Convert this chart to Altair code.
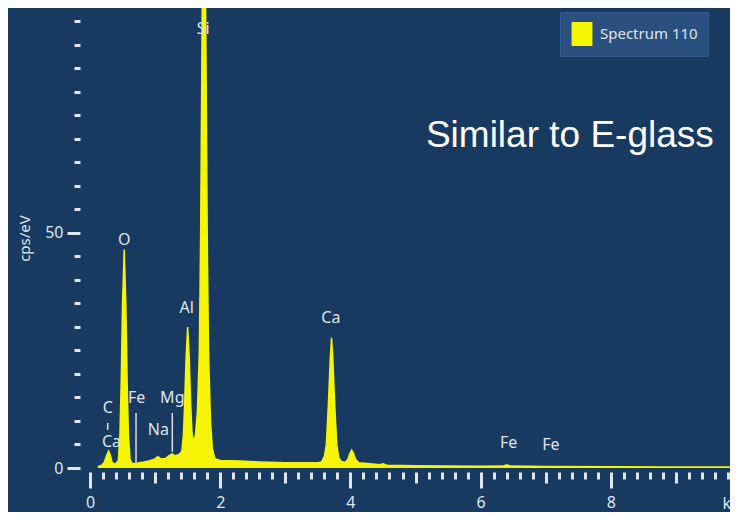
import altair as alt
import pandas as pd

# ---- spectrum ----
energy_kev = [0.12, 0.18, 0.22, 0.26, 0.285, 0.31, 0.34, 0.38, 0.435, 0.46, 0.48, 0.50, 0.525,
              0.55, 0.57, 0.59, 0.615, 0.65, 0.72, 0.80, 0.90, 0.98, 1.04, 1.10, 1.16, 1.21,
              1.26, 1.31, 1.36, 1.41, 1.435, 1.455, 1.475, 1.50, 1.525, 1.545, 1.565, 1.58,
              1.62, 1.65, 1.68, 1.70, 1.72, 1.735, 1.75, 1.765, 1.78, 1.80, 1.82, 1.85, 1.88,
              1.92, 2.0, 2.3, 2.6, 3.0, 3.3, 3.5, 3.56, 3.60, 3.63, 3.66, 3.69, 3.71, 3.73,
              3.76, 3.79, 3.82, 3.86, 3.92, 3.96, 3.99, 4.02, 4.05, 4.08, 4.13, 4.3, 4.45,
              4.50, 4.56, 5.0, 5.5, 6.0, 6.35, 6.40, 6.45, 7.0, 8.0, 9.0, 9.9]
cps_per_ev = [0.3, 0.6, 1.2, 2.8, 3.6, 2.8, 1.2, 0.8, 1.5, 7, 18.5, 35, 46.5,
              35, 18.5, 7, 1.8, 0.9, 1.0, 1.2, 1.5, 1.8, 2.4, 1.9, 2.0, 2.6,
              3.0, 2.6, 2.8, 3.5, 7, 14, 23, 30, 23, 14, 8, 5.5,
              7, 12, 25, 50, 90, 120, 135, 120, 90, 50, 25, 10, 4,
              2, 1.6, 1.5, 1.3, 1.1, 1.1, 1.1, 1.3, 2.5, 5, 13, 23, 27.7, 23,
              13, 5, 2.2, 1.4, 1.2, 1.8, 3.0, 3.8, 3.0, 1.8, 1.1, 0.9, 0.7,
              0.9, 0.6, 0.5, 0.4, 0.35, 0.4, 0.7, 0.4, 0.3, 0.25, 0.2, 0.2]
series_name = "Spectrum 110"

# ---- element labels ----
label_text = ["Si", "O", "Al", "Ca", "C", "Ca", "Fe", "Na", "Mg", "Fe", "Fe"]
label_kev = [1.74, 0.527, 1.485, 3.70, 0.272, 0.33, 0.717, 1.05, 1.264, 6.43, 7.08]
label_cps = [93.5, 48.5, 34.0, 32.0, 12.8, 5.6, 14.9, 8.1, 14.9, 5.3, 4.9]

# ---- element marker lines ----
marker_kev = [0.272, 0.707, 1.264]
marker_top = [9.6, 11.7, 11.7]
marker_bottom = [8.1, 1.1, 3.4]

# ---- axis ticks ----
x_ticks = [round(i * 0.2, 1) for i in range(0, 50)]
y_ticks = list(range(0, 100, 5))

note_text = ["Similar to E-glass"]
note_kev = [7.37]
note_cps = [68.3]

X_DOMAIN = [0, 9.83]
Y_DOMAIN = [0, 97.87]

spec = pd.DataFrame({"keV": energy_kev, "cps": cps_per_ev, "series": series_name})
labels = pd.DataFrame({"t": label_text, "keV": label_kev, "cps": label_cps})
markers = pd.DataFrame({"keV": marker_kev, "top": marker_top, "bottom": marker_bottom})
note = pd.DataFrame({"t": note_text, "keV": note_kev, "cps": note_cps})

FONT = "Noto Sans"
TXT = "#dfe6ee"

x_major = "abs(datum.value/2 - round(datum.value/2)) < 0.01"
x_mid = "abs(datum.value - round(datum.value)) < 0.01"

x_axis = alt.Axis(
    values=x_ticks, tickCount=200, domain=False, grid=False, offset=4,
    tickColor=TXT, tickWidth=3,
    tickSize={"condition": [{"test": x_major, "value": 16}, {"test": x_mid, "value": 11}], "value": 7},
    labelExpr=f"{x_major} ? '' + round(datum.value) : ''",
    labelColor=TXT, labelFont=FONT, labelFontSize=16, labelPadding=6,
    labelOverlap=False, labelFlush=False,
    title="keV", titleColor=TXT, titleFont=FONT, titleFontSize=16, titleFontWeight="normal",
    titleAlign="left", titleAnchor="start", titleX=632, titleY=31, titleBaseline="middle",
)
y_axis = alt.Axis(
    values=y_ticks, tickCount=200, domain=False, grid=False, offset=10,
    tickColor=TXT, tickWidth=3,
    tickSize={"condition": {"test": "datum.value % 50 == 0", "value": 13}, "value": 6},
    labelExpr="datum.value % 50 == 0 ? '' + datum.value : ''",
    labelColor=TXT, labelFont=FONT, labelFontSize=16, labelPadding=4,
    labelOverlap=False, labelFlush=False,
    title="cps/eV", titleColor=TXT, titleFont=FONT, titleFontSize=15, titleFontWeight="normal",
    titlePadding=12,
)

xs = alt.Scale(domain=X_DOMAIN, nice=False, zero=False)
ys = alt.Scale(domain=Y_DOMAIN, nice=False)

area = alt.Chart(spec).mark_area(clip=True, line={"color": "#f5f505", "strokeWidth": 1.5}, opacity=1).encode(
    x=alt.X("keV:Q", scale=xs, axis=x_axis),
    y=alt.Y("cps:Q", scale=ys, axis=y_axis),
    color=alt.Color("series:N", scale=alt.Scale(domain=[series_name], range=["#f5f505"]),
                    legend=alt.Legend(
                        orient="none", legendX=470, legendY=4, title=None,
                        fillColor="#2a507f", strokeColor="#34598a", padding=10,
                        symbolType="M-0.87,-1H0.87V1H-0.87Z", symbolSize=576,
                        symbolStrokeWidth=0, symbolOpacity=1, symbolOffset=0,
                        labelColor=TXT, labelFont=FONT, labelFontSize=15, labelOffset=6,
                        labelLimit=400,
                    )),
)

rules = alt.Chart(markers).mark_rule(color="#d8dfe8", strokeWidth=1.5).encode(
    x=alt.X("keV:Q", scale=xs), y=alt.Y("top:Q", scale=ys), y2="bottom:Q"
)

texts = alt.Chart(labels).mark_text(font=FONT, fontSize=16, color=TXT, align="center", baseline="middle").encode(
    x=alt.X("keV:Q", scale=xs), y=alt.Y("cps:Q", scale=ys), text="t:N"
)

note_mark = alt.Chart(note).mark_text(font="Liberation Sans", fontSize=37, color="#ffffff",
                                      align="center", baseline="alphabetic").encode(
    x=alt.X("keV:Q", scale=xs), y=alt.Y("cps:Q", scale=ys), text="t:N"
)

chart = alt.layer(area, rules, texts, note_mark).properties(
    width=640, height=460,
    background="#183a61",
    autosize=alt.AutoSizeParams(type="none"),
    padding={"left": 82, "top": 0, "right": 0, "bottom": 44},
).configure_view(stroke=None)

chart.save("out.html", embed_options={"renderer": "svg", "actions": False})
